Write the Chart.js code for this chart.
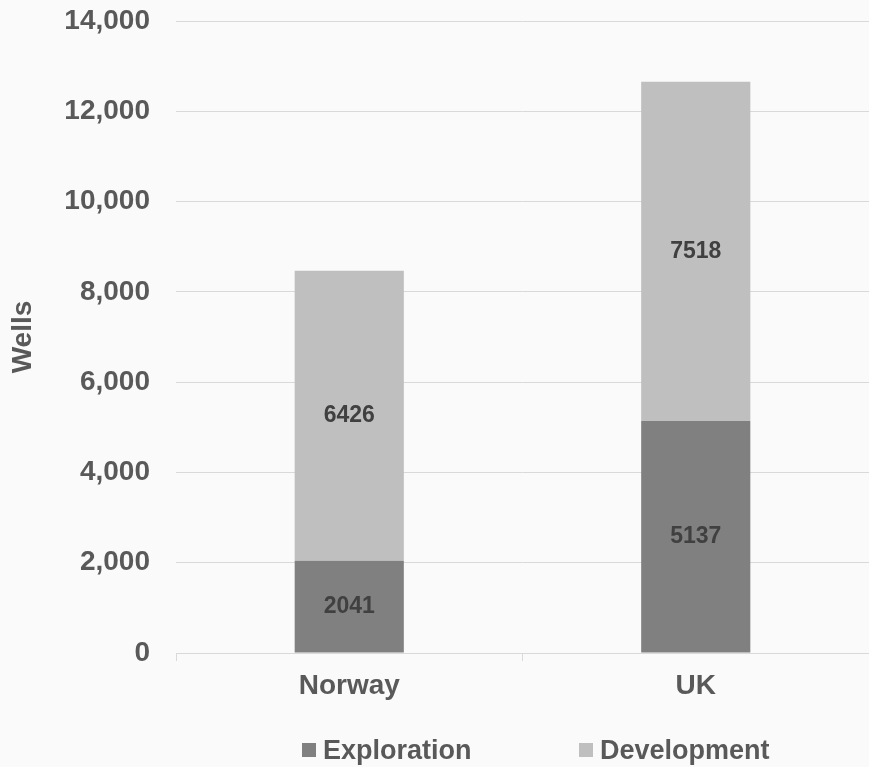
<!DOCTYPE html>
<html>
<head>
<meta charset="utf-8">
<title>Wells drilled: Norway vs UK</title>
<script src="https://cdn.jsdelivr.net/npm/chart.js@4.4.1/dist/chart.umd.min.js"></script>
<style>
  html, body { margin: 0; padding: 0; background: #fafafa; }
  #wrap { position: relative; width: 869px; height: 767px; }
  #chart { position: absolute; left: 0; top: 0; }
  #legend { position: absolute; left: 0; top: 733px; width: 869px; height: 34px;
            font: bold 27px "Liberation Sans", Arial, sans-serif; color: #595959; }
  #legend .item { position: absolute; top: 0; height: 34px; display: flex; align-items: center; white-space: nowrap; }
  #legend .box { width: 14px; height: 14px; margin-right: 7px; flex: none; }
</style>
</head>
<body>
<div id="wrap">
  <canvas id="chart" width="869" height="767"></canvas>
  <div id="legend"></div>
</div>
<script>
// Categories and series values
const categories = ['Norway', 'UK'];
const exploration = [2041, 5137];
const development = [6426, 7518];

// Value axis range
const yMin = 0;
const yMax = 14000;
const yStep = 2000;

const FONT = '"Liberation Sans", Arial, sans-serif';
const TEXT = '#595959';
const GRID = '#d9d9d9';

// Writes each segment's value in the middle of its bar piece
const segmentLabels = {
  id: 'segmentLabels',
  afterDatasetsDraw(chart) {
    const ctx = chart.ctx;
    ctx.save();
    ctx.font = 'bold 23px ' + FONT;
    ctx.fillStyle = '#404040';
    ctx.textAlign = 'center';
    ctx.textBaseline = 'middle';
    chart.data.datasets.forEach((ds, i) => {
      chart.getDatasetMeta(i).data.forEach((bar, j) => {
        const p = bar.getProps(['x', 'y', 'base'], true);
        ctx.fillText(String(ds.data[j]), p.x, (p.y + p.base) / 2);
      });
    });
    ctx.restore();
  }
};

// Builds the legend below the plot from the chart's own legend items
const legendSlots = [302, 579];
const htmlLegend = {
  id: 'htmlLegend',
  afterUpdate(chart) {
    const host = document.getElementById('legend');
    host.innerHTML = '';
    const items = chart.options.plugins.legend.labels.generateLabels(chart);
    items.forEach((item, i) => {
      const el = document.createElement('div');
      el.className = 'item';
      el.style.left = legendSlots[i] + 'px';
      const box = document.createElement('span');
      box.className = 'box';
      box.style.background = item.fillStyle;
      const label = document.createElement('span');
      label.textContent = item.text;
      el.appendChild(box);
      el.appendChild(label);
      host.appendChild(el);
    });
  }
};

new Chart(document.getElementById('chart'), {
  type: 'bar',
  data: {
    labels: categories,
    datasets: [
      { label: 'Exploration', data: exploration, backgroundColor: '#808080' },
      { label: 'Development', data: development, backgroundColor: '#bfbfbf' }
    ]
  },
  options: {
    responsive: false,
    animation: false,
    locale: 'en-US',
    layout: { padding: { top: 21, right: 0, bottom: 64, left: 0 } },
    datasets: { bar: { barPercentage: 0.315, categoryPercentage: 1 } },
    plugins: {
      legend: { display: false },
      tooltip: { enabled: false }
    },
    scales: {
      x: {
        stacked: true,
        offset: true,
        grid: { offset: true, drawOnChartArea: false, drawTicks: true, tickLength: 8, color: GRID },
        border: { color: GRID },
        ticks: { font: { family: FONT, size: 28, weight: 'bold' }, color: TEXT, padding: 8 },
        afterFit(scale) { scale.height = 50; }
      },
      y: {
        stacked: true,
        min: yMin,
        max: yMax,
        grid: { color: GRID, drawTicks: false },
        border: { display: false },
        ticks: { stepSize: yStep, font: { family: FONT, size: 28, weight: 'bold' }, color: TEXT, padding: 26 },
        title: { display: true, text: 'Wells', font: { family: FONT, size: 28, weight: 'bold' }, color: TEXT, padding: { top: 6, bottom: 0 } },
        afterFit(scale) {
          scale.width = 176;
          scale.paddingTop = 0;
          scale.paddingBottom = 0;
        }
      }
    }
  },
  plugins: [segmentLabels, htmlLegend]
});
</script>
</body>
</html>
